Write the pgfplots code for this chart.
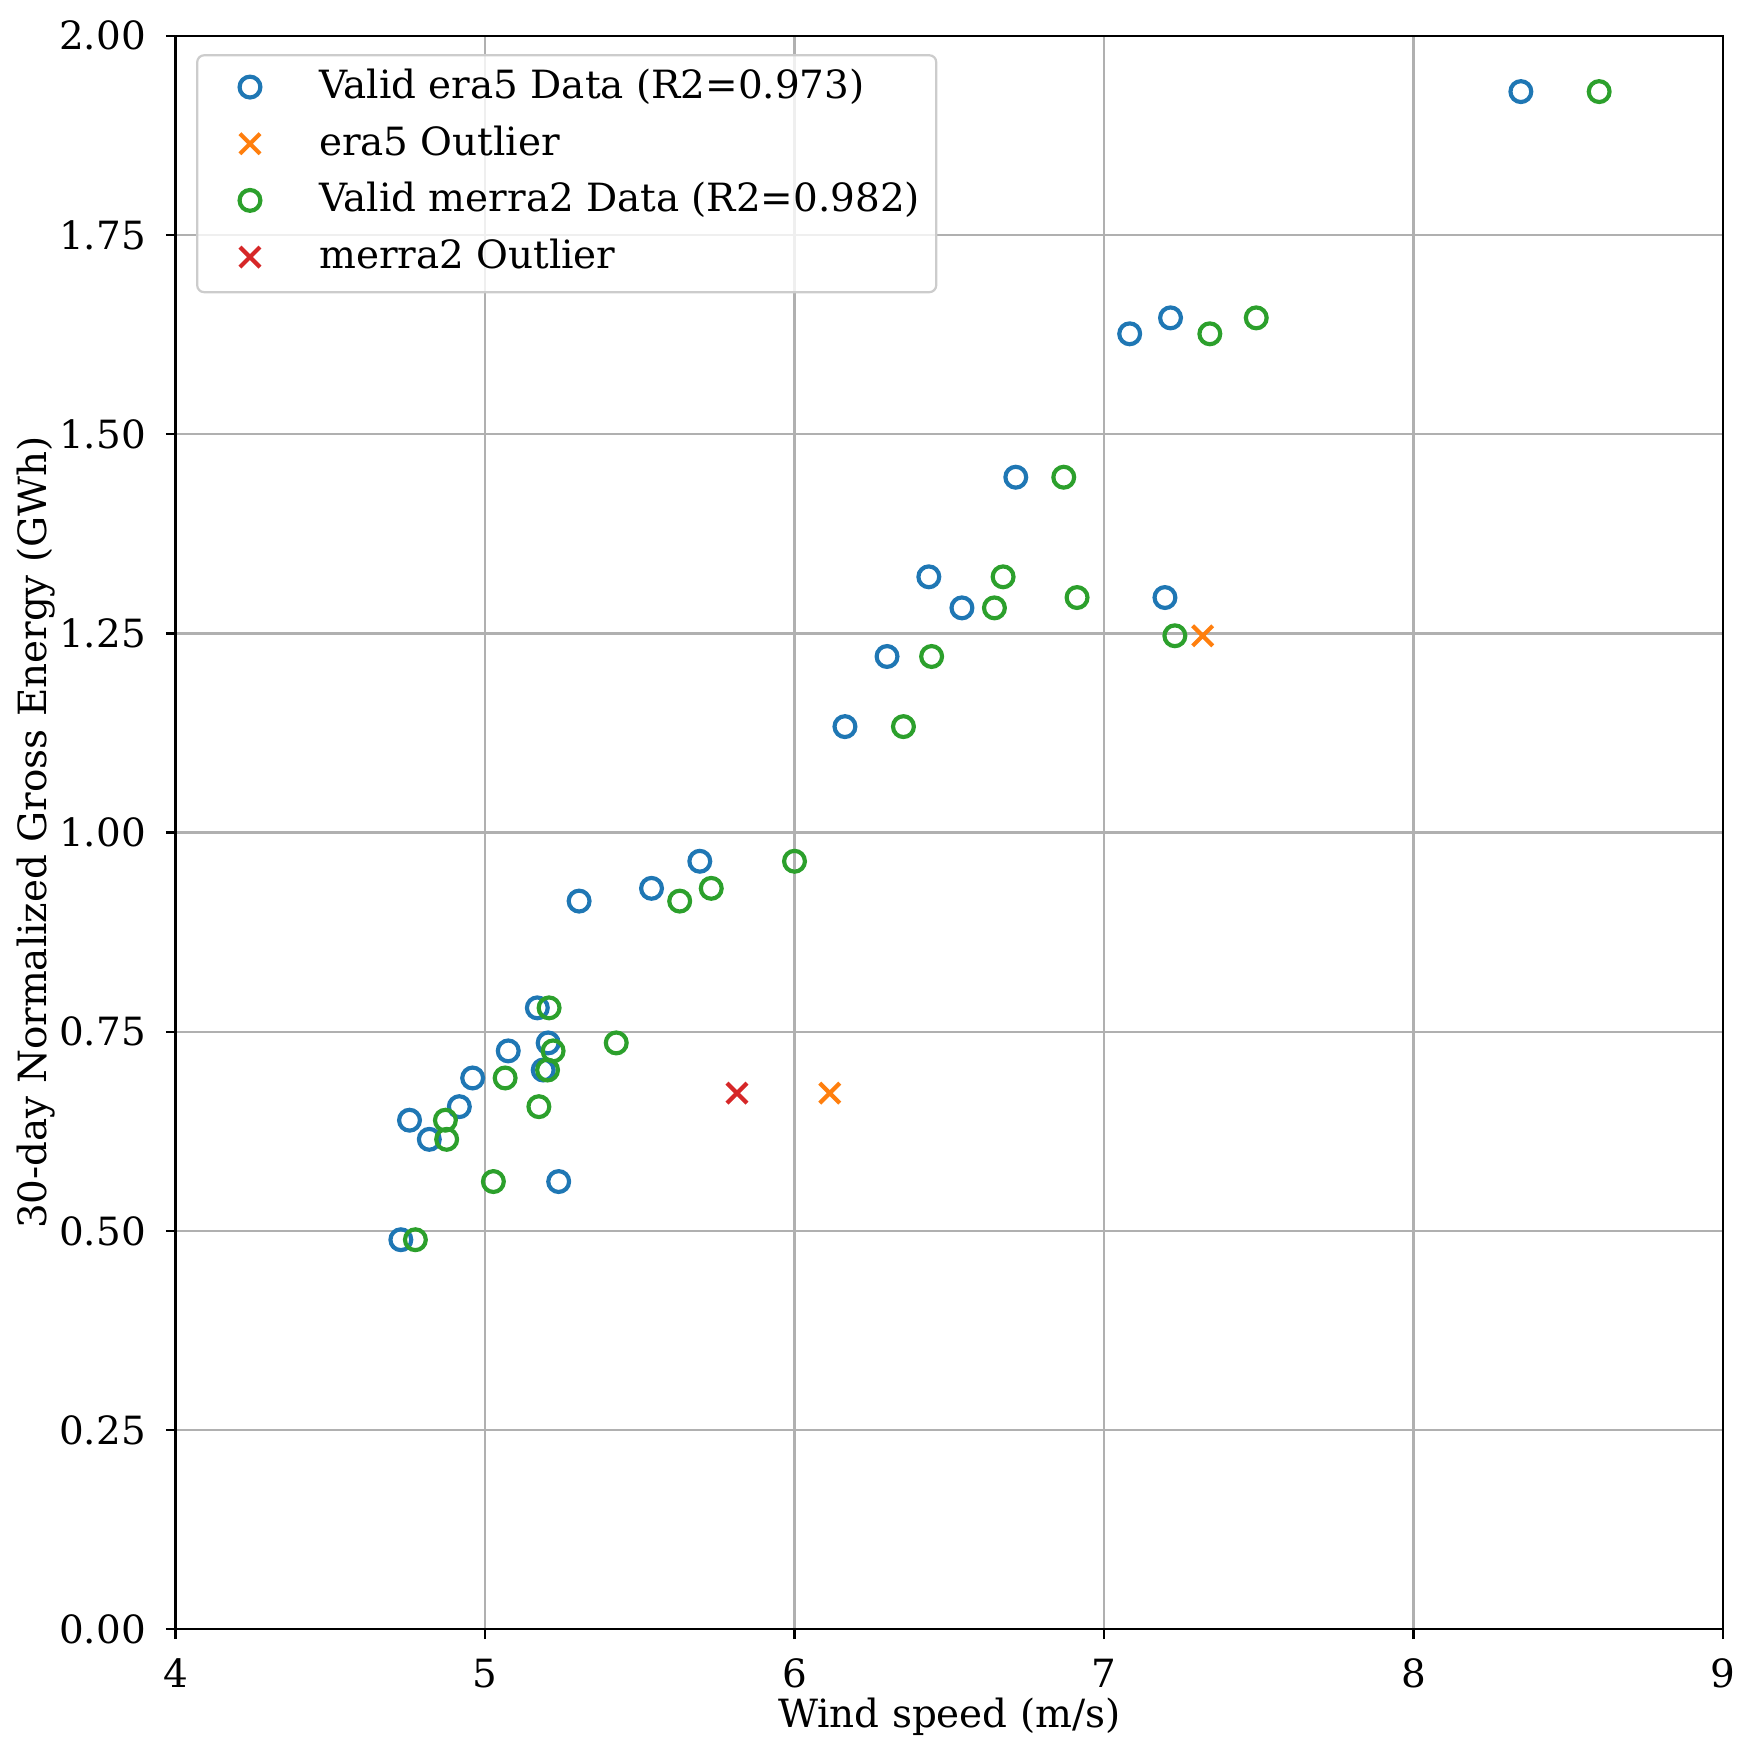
\documentclass[border=0pt]{standalone}
\usepackage{fontspec}
\setmainfont{DejaVu Serif}
\usepackage{pgfplots}
\pgfplotsset{compat=1.18}

\definecolor{tabblue}{HTML}{1F77B4}
\definecolor{taborange}{HTML}{FF7F0E}
\definecolor{tabgreen}{HTML}{2CA02C}
\definecolor{tabred}{HTML}{D62728}
\definecolor{gridgray}{HTML}{B0B0B0}

% Legend glyph: the plot's own marker placed in a 26.4bp slot
\pgfplotsset{
  marklegend/.style={legend image code/.code={\path[draw=none] (0bp,0bp) -- (26.4bp,0bp);
    \draw[##1] plot coordinates {(13.2bp,0.6bp)};}},
}

\begin{document}
\fontsize{14bp}{16.8bp}\selectfont
\begin{tikzpicture}
\begin{axis}[
  scale only axis,
  width=557.1bp, height=573.7bp,
  xmin=4, xmax=9, ymin=0, ymax=2,
  xtick={4,5,6,7,8,9},
  ytick={0,0.25,0.5,0.75,1,1.25,1.5,1.75,2},
  yticklabel style={/pgf/number format/.cd, fixed, fixed zerofill, precision=2},
  /pgf/number format/assume math mode=true,
  tick label style={font=\fontsize{14bp}{16.8bp}\selectfont, inner sep=0pt},
  xticklabel shift=7bp, yticklabel shift=7bp,
  tick align=outside, major tick length=3.5bp,
  tick style={black, line width=0.8bp},
  xtick pos=bottom, ytick pos=left,
  axis line style={black, line width=0.8bp},
  grid=major,
  major grid style={gridgray, line width=0.8bp},
  xlabel={Wind speed (m/s)},
  ylabel={30-day Normalized Gross Energy (GWh)},
  label style={font=\fontsize{14bp}{16.8bp}\selectfont},
  xlabel style={at={(axis description cs:0.5,-0.055)}, anchor=center},
  ylabel style={at={(axis description cs:-0.0903,0.5)}, anchor=center},
  legend cell align=left,
  legend style={
    at={(axis description cs:0,1)}, anchor=north west,
    xshift=7.4bp, yshift=-6.6bp,
    draw=black!20, line width=0.8bp, rounded corners=2.5bp,
    fill=white, fill opacity=0.8, text opacity=1,
    inner xsep=5.8bp, inner ysep=5.35bp,
    row sep=7.0bp, column sep=11.7bp,
    font=\fontsize{14bp}{16.8bp}\selectfont,
    nodes={inner sep=0pt, text height=10.2bp, text depth=3.2bp},
  },
  ringmark/.style={only marks, mark=o, mark size=3.75bp, line width=1.5bp, marklegend},
  crossmark/.style={only marks, mark=x, mark size=5.1bp, line width=1.5bp, marklegend},
]

% ERA5, months kept for the fit
\addplot[tabblue, ringmark]
  table {
x y
8.347 1.930
7.215 1.646
7.083 1.626
6.715 1.446
6.434 1.321
6.541 1.282
7.197 1.295
6.299 1.221
6.163 1.133
5.694 0.964
5.538 0.930
5.304 0.914
5.169 0.780
5.075 0.726
5.204 0.736
5.188 0.702
4.960 0.692
4.917 0.656
4.756 0.639
4.820 0.615
5.238 0.562
4.728 0.489
};
\addlegendentry{Valid era5 Data (R2=0.973)}

% ERA5, rejected months
\addplot[taborange, crossmark]
  table {
x y
7.319 1.247
6.114 0.673
};
\addlegendentry{era5 Outlier}

% MERRA-2, months kept for the fit
\addplot[tabgreen, ringmark]
  table {
x y
8.600 1.930
7.492 1.646
7.342 1.626
6.870 1.446
6.674 1.321
6.646 1.282
6.913 1.295
7.229 1.247
6.443 1.221
6.352 1.133
6.000 0.964
5.731 0.930
5.629 0.914
5.207 0.780
5.220 0.726
5.424 0.736
5.202 0.702
5.065 0.692
5.174 0.656
4.872 0.639
4.876 0.615
5.027 0.562
4.775 0.489
};
\addlegendentry{Valid merra2 Data (R2=0.982)}

% MERRA-2, rejected months
\addplot[tabred, crossmark]
  table {
x y
5.814 0.673
};
\addlegendentry{merra2 Outlier}

\end{axis}
\pgfresetboundingbox
\path[use as bounding box]
  ([xshift=-63.2bp,yshift=-45.5bp]current axis.south west)
  rectangle ([xshift=11.9bp,yshift=12.9bp]current axis.north east);
\end{tikzpicture}
\end{document}
